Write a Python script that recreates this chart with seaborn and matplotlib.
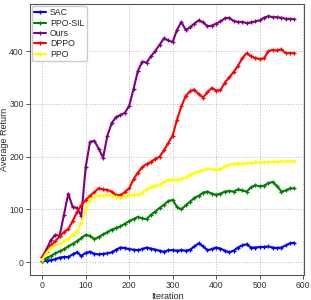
import numpy as np
import pandas as pd
import matplotlib
matplotlib.use("Agg")
import matplotlib.pyplot as plt
import seaborn as sns


# -------------------- DATA --------------------
iterations = list(range(0, 590, 10))

sac = [2, 3, 4, 6, 9, 10, 10, 15, 19, 12, 18, 20, 16, 15, 16, 17, 19, 24, 28, 27,
       25, 24, 23, 25, 28, 26, 24, 22, 20, 23, 23, 22, 23, 22, 24, 30, 36, 30, 23, 25,
       28, 26, 22, 19, 22, 28, 32, 34, 28, 28, 29, 29, 30, 28, 27, 28, 32, 36, 37]

ppo_sil = [2, 8, 12, 17, 21, 25, 30, 35, 40, 46, 52, 50, 44, 48, 53, 57, 62, 65, 68, 73,
           78, 82, 86, 83, 82, 90, 96, 103, 109, 116, 118, 105, 100, 108, 115, 122, 126, 132, 134, 130,
           128, 130, 134, 135, 134, 138, 136, 134, 142, 146, 144, 145, 150, 152, 144, 134, 136, 140, 140]

ours = [10, 25, 42, 52, 50, 90, 130, 105, 103, 88, 180, 228, 230, 215, 198, 240, 264, 275, 279, 283,
        296, 328, 362, 380, 378, 390, 400, 412, 424, 420, 417, 440, 455, 440, 445, 452, 458, 454, 447, 448,
        452, 456, 462, 463, 457, 455, 455, 453, 454, 456, 458, 463, 466, 464, 464, 463, 461, 461, 460]

dppo = [10, 20, 32, 40, 49, 57, 63, 78, 95, 108, 118, 126, 133, 140, 138, 137, 134, 127, 127, 133,
        140, 157, 170, 180, 186, 190, 196, 200, 212, 226, 240, 270, 295, 315, 324, 327, 318, 312, 322, 330,
        325, 326, 340, 350, 360, 372, 386, 396, 390, 387, 385, 386, 400, 402, 401, 403, 396, 396, 396]

ppo = [5, 18, 28, 32, 34, 40, 45, 52, 58, 75, 100, 119, 124, 126, 127, 128, 126, 124, 122, 126,
       128, 128, 128, 132, 138, 143, 145, 147, 152, 156, 156, 156, 158, 161, 165, 170, 172, 175, 177, 176,
       175, 177, 182, 185, 186, 187, 187, 188, 188, 189, 189, 189, 190, 190, 190, 191, 191, 191, 192]

methods = ["SAC", "PPO-SIL", "Ours", "DPPO", "PPO"]
colors = ["blue", "green", "purple", "red", "yellow"]


# -------------------- PLOT --------------------
def build_frame():
    series = [sac, ppo_sil, ours, dppo, ppo]
    frames = []
    for name, vals in zip(methods, series):
        frames.append(pd.DataFrame({"Iteration": iterations, "Average Return": vals, "Method": name}))
    return pd.concat(frames, ignore_index=True)


def plot(df):
    sns.set_theme(style="whitegrid")
    plt.rcParams["font.family"] = ["Liberation Sans", "DejaVu Sans"]

    fig = plt.figure(figsize=(3.11, 3.00), dpi=100)
    ax = fig.add_axes([30 / 311, 25 / 300, 274 / 311, 271 / 300])

    sns.lineplot(
        data=df, x="Iteration", y="Average Return", hue="Method",
        hue_order=methods, palette=colors, marker="+", markersize=3.5,
        markeredgewidth=0.9, linewidth=1.5, ax=ax, legend=True
    )
    # '+' markers get a white edge from seaborn; paint them in the line colour
    for line in ax.get_lines():
        line.set_markeredgecolor(line.get_color())

    ax.set_xlim(-28, 602)
    ax.set_ylim(-24, 489)
    ax.set_xticks([0, 100, 200, 300, 400, 500, 600])
    ax.set_yticks([0, 100, 200, 300, 400])
    ax.tick_params(labelsize=6.2, length=3, width=0.6, colors="#333333", pad=1.5,
                   bottom=True, left=True)
    ax.set_xlabel("Iteration", fontsize=6.5, labelpad=1)
    ax.set_ylabel("Average Return", fontsize=6.5)
    ax.yaxis.set_label_coords(-0.078, 0.5)

    ax.grid(True, linestyle=":", color="#bbbbbb", linewidth=0.7)
    for sp in ax.spines.values():
        sp.set_color("#555555")
        sp.set_linewidth(0.8)

    leg = ax.legend(loc="upper left", fontsize=6.3, handlelength=1.3, handletextpad=0.5,
                    borderpad=0.3, labelspacing=0.15, borderaxespad=0.2, framealpha=1,
                    edgecolor="#cccccc", title=None)
    for h in leg.get_lines():
        h.set_markeredgecolor(h.get_color())

    fig.savefig("out.png", dpi=100)


def main():
    df = build_frame()
    plot(df)


if __name__ == "__main__":
    main()
